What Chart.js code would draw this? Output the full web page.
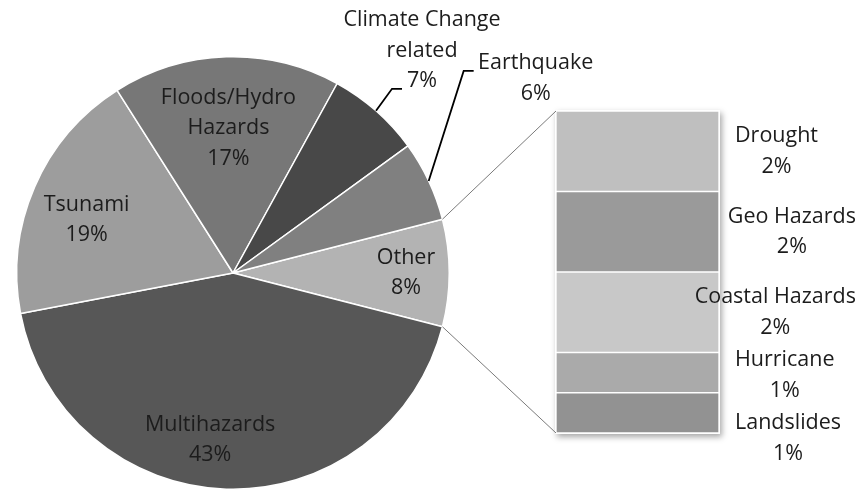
<!DOCTYPE html>
<html>
<head>
<meta charset="utf-8">
<script src="https://cdn.jsdelivr.net/npm/chart.js@4/dist/chart.umd.min.js"></script>
<style>
  html, body { margin: 0; padding: 0; background: #ffffff; }
  #wrap { position: relative; width: 858px; height: 493px; overflow: hidden; }
  #wrap canvas { position: absolute; left: 0; top: 0; }
</style>
</head>
<body>
<div id="wrap">
  <canvas id="pieCanvas" width="858" height="493"></canvas>
  <canvas id="barCanvas" width="858" height="493"></canvas>
</div>
<script>
// Hazard types covered (share of all entries, %). "Other" is broken out in the column.
const pieLabels = [['Other'], ['Multihazards'], ['Tsunami'], ['Floods/Hydro', 'Hazards'], ['Climate Change', 'related'], ['Earthquake']];
const pieValues = [8, 43, 19, 17, 7, 6];
const pieColors = ['#b3b3b3', '#575757', '#9d9d9d', '#777777', '#484848', '#808080'];

// Breakdown of "Other", listed bottom to top of the stacked column.
const otherLabels = ['Landslides', 'Hurricane', 'Coastal Hazards', 'Geo Hazards', 'Drought'];
const otherValues = [1, 1, 2, 2, 2];
const otherColors = ['#929292', '#aaaaaa', '#c8c8c8', '#9a9a9a', '#bfbfbf'];

const FONT = '21.5px "Open Sans"';
const TEXT = '#1c1c1c';
const LINE_H = 30.5;

function drawBlock(ctx, lines, cx, cy) {
  ctx.save();
  ctx.font = FONT;
  ctx.fillStyle = TEXT;
  ctx.textAlign = 'center';
  ctx.textBaseline = 'middle';
  const top = cy - (lines.length - 1) * LINE_H / 2;
  lines.forEach((t, k) => ctx.fillText(t, cx, top + k * LINE_H));
  ctx.restore();
}

// Label placement per slice: inside labels sit on a fraction of the radius,
// small slices get an outside label with an elbow leader line.
const pieLabelPlacement = [
  { r: 0.80, turn: 0 },
  { r: 0.78, turn: 6 },
  { r: 0.72, turn: -3.5 },
  { r: 0.67, turn: 0 },
  { out: { dx: 46, dy: -60, ex: -20, ey: 38 } },
  { out: { dx: 107, dy: -102.5, ex: -62, ey: -7.5 } }
];

const pieLabelPlugin = {
  id: 'pieLabels',
  afterDatasetsDraw(chart) {
    const ctx = chart.ctx;
    const meta = chart.getDatasetMeta(0);
    meta.data.forEach((arc, i) => {
      const p = arc.getProps(['x', 'y', 'startAngle', 'endAngle', 'outerRadius'], true);
      const mid = (p.startAngle + p.endAngle) / 2;
      const lines = pieLabels[i].concat([pieValues[i] + '%']);
      const place = pieLabelPlacement[i];
      if (place.out) {
        const ax = p.x + Math.cos(mid) * p.outerRadius;
        const ay = p.y + Math.sin(mid) * p.outerRadius;
        const cx = ax + place.out.dx, cy = ay + place.out.dy;
        const ex = cx + place.out.ex, ey = cy + place.out.ey;
        ctx.save();
        ctx.strokeStyle = '#000000';
        ctx.lineWidth = 1.8;
        ctx.beginPath();
        ctx.moveTo(ax, ay);
        ctx.lineTo(ex - 10, ey);
        ctx.lineTo(ex, ey);
        ctx.stroke();
        ctx.restore();
        drawBlock(ctx, lines, cx, cy);
      } else {
        const a = mid + place.turn * Math.PI / 180;
        const d = p.outerRadius * place.r;
        drawBlock(ctx, lines, p.x + Math.cos(a) * d, p.y + Math.sin(a) * d);
      }
    });
  }
};

let pieChart = null;

// Soft drop shadow behind the whole column.
const columnShadow = {
  id: 'columnShadow',
  beforeDatasetsDraw(chart) {
    const n = chart.data.datasets.length;
    const bottom = chart.getDatasetMeta(0).data[0].getProps(['x', 'base', 'width'], true);
    const top = chart.getDatasetMeta(n - 1).data[0].getProps(['y'], true);
    const ctx = chart.ctx;
    ctx.save();
    ctx.shadowColor = 'rgba(0,0,0,0.35)';
    ctx.shadowBlur = 6;
    ctx.shadowOffsetX = 2;
    ctx.shadowOffsetY = 3;
    ctx.fillStyle = '#ffffff';
    ctx.fillRect(bottom.x - bottom.width / 2 - 1, top.y - 1, bottom.width + 2, bottom.base - top.y + 2);
    ctx.restore();
  }
};

// Lines joining the "Other" slice to the column.
const connectorLines = {
  id: 'connectorLines',
  afterDatasetsDraw(chart) {
    if (!pieChart) return;
    const arc = pieChart.getDatasetMeta(0).data[0].getProps(['x', 'y', 'startAngle', 'endAngle', 'outerRadius'], true);
    const n = chart.data.datasets.length;
    const bottom = chart.getDatasetMeta(0).data[0].getProps(['x', 'base', 'width'], true);
    const top = chart.getDatasetMeta(n - 1).data[0].getProps(['y'], true);
    const left = bottom.x - bottom.width / 2;
    const ctx = chart.ctx;
    ctx.save();
    ctx.strokeStyle = '#7a7a7a';
    ctx.lineWidth = 1;
    ctx.beginPath();
    ctx.moveTo(arc.x + Math.cos(arc.startAngle) * arc.outerRadius, arc.y + Math.sin(arc.startAngle) * arc.outerRadius);
    ctx.lineTo(left, top.y);
    ctx.moveTo(arc.x + Math.cos(arc.endAngle) * arc.outerRadius, arc.y + Math.sin(arc.endAngle) * arc.outerRadius);
    ctx.lineTo(left, bottom.base);
    ctx.stroke();
    ctx.restore();
  }
};

// Column labels to the right, kept inside the canvas and pushed apart when crowded.
const columnLabels = {
  id: 'columnLabels',
  afterDatasetsDraw(chart) {
    const ctx = chart.ctx;
    ctx.save();
    ctx.font = FONT;
    const n = chart.data.datasets.length;
    let prev = -Infinity;
    for (let i = n - 1; i >= 0; i--) {
      const el = chart.getDatasetMeta(i).data[0].getProps(['x', 'y', 'base', 'width'], true);
      const lines = [otherLabels[i], otherValues[i] + '%'];
      const w = Math.max(...lines.map(t => ctx.measureText(t).width));
      const leftEdge = Math.min(el.x + el.width / 2 + 16, chart.width - 2 - w);
      let cy = (el.y + el.base) / 2;
      cy = Math.max(cy, prev + 2 * LINE_H + 2);
      prev = cy;
      drawBlock(ctx, lines, leftEdge + w / 2, cy);
    }
    ctx.restore();
  }
};

function build() {
  pieChart = new Chart(document.getElementById('pieCanvas'), {
    type: 'pie',
    data: {
      labels: pieLabels,
      datasets: [{
        data: pieValues,
        backgroundColor: pieColors,
        borderColor: '#ffffff',
        borderWidth: 1.5,
        hoverOffset: 0
      }]
    },
    options: {
      responsive: false,
      animation: false,
      devicePixelRatio: 1,
      rotation: 90 - pieValues[0] * 3.6 / 2,
      layout: { padding: { left: 16, top: 56, right: 408, bottom: 3 } },
      plugins: { legend: { display: false }, tooltip: { enabled: false } }
    },
    plugins: [pieLabelPlugin]
  });

  new Chart(document.getElementById('barCanvas'), {
    type: 'bar',
    data: {
      labels: ['Other'],
      datasets: otherLabels.map((name, i) => ({
        label: name,
        data: [otherValues[i]],
        backgroundColor: otherColors[i],
        borderColor: '#ffffff',
        borderWidth: 1,
        borderSkipped: false,
        categoryPercentage: 1,
        barPercentage: 1
      }))
    },
    options: {
      responsive: false,
      animation: false,
      devicePixelRatio: 1,
      layout: { padding: { left: 556, right: 139, top: 111, bottom: 60 } },
      scales: {
        x: { stacked: true, display: false },
        y: { stacked: true, display: false, min: 0, max: otherValues.reduce((a, b) => a + b, 0) }
      },
      plugins: { legend: { display: false }, tooltip: { enabled: false } }
    },
    plugins: [columnShadow, connectorLines, columnLabels]
  });
}

if (document.fonts && document.fonts.load) {
  document.fonts.load(FONT).then(build, build);
} else {
  build();
}
</script>
</body>
</html>
